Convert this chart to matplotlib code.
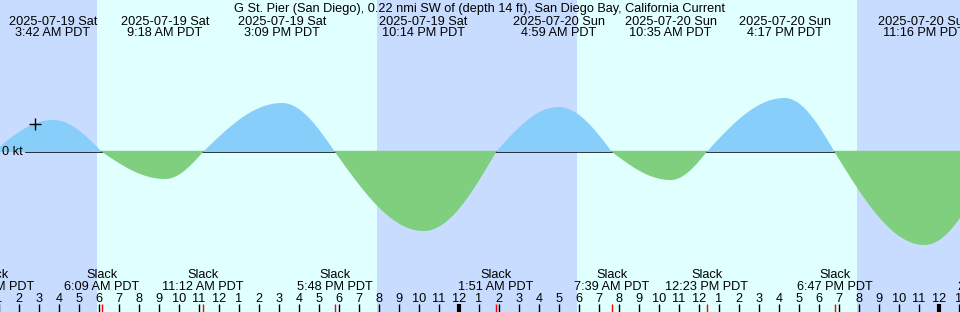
import numpy as np
import matplotlib
matplotlib.use("Agg")
import matplotlib.pyplot as plt
from matplotlib.transforms import blended_transform_factory

# ---- data (hours since 2025-07-19 00:00 PDT, current in knots) ----
title = "G St. Pier (San Diego), 0.22 nmi SW of (depth 14 ft), San Diego Bay, California Current"

event_times = [0.72, 3.70, 6.15, 9.30, 11.20, 15.15, 17.80, 22.23, 25.85,
               28.98, 31.65, 34.58, 36.38, 40.28, 42.78, 47.27, 50.83]
event_values = [0.0, 0.32, 0.0, -0.27, 0.0, 0.49, 0.0, -0.79, 0.0,
                0.45, 0.0, -0.28, 0.0, 0.54, 0.0, -0.93, 0.0]
event_labels = [
    "Slack\n12:43 AM PDT",
    "2025-07-19 Sat\n3:42 AM PDT",
    "Slack\n6:09 AM PDT",
    "2025-07-19 Sat\n9:18 AM PDT",
    "Slack\n11:12 AM PDT",
    "2025-07-19 Sat\n3:09 PM PDT",
    "Slack\n5:48 PM PDT",
    "2025-07-19 Sat\n10:14 PM PDT",
    "Slack\n1:51 AM PDT",
    "2025-07-20 Sun\n4:59 AM PDT",
    "Slack\n7:39 AM PDT",
    "2025-07-20 Sun\n10:35 AM PDT",
    "Slack\n12:23 PM PDT",
    "2025-07-20 Sun\n4:17 PM PDT",
    "Slack\n6:47 PM PDT",
    "2025-07-20 Sun\n11:16 PM PDT",
    "Slack\n2:50 AM PDT",
]
night_starts = [-2.0, 19.9, 43.9]
night_ends = [5.9, 29.9, 52.0]
now_time = 2.8
now_value = 0.28

# ---- figure ----
W, H = 960, 312
fig = plt.figure(figsize=(W / 100, H / 100), dpi=100)
ax = fig.add_axes([0, 0, 1, 1])
x0 = 1.05
ax.set_xlim(x0, x0 + 48)
ax.set_ylim(-1.60, 1.52)
ax.axis("off")
day_color = "#e0ffff"
night_color = "#c8dcff"
flood_color = "#87cefa"
ebb_color = "#7fcf7f"
fig.patch.set_facecolor(day_color)
ax.add_patch(plt.Rectangle((0, 0), 1, 1, transform=ax.transAxes, color=day_color, zorder=0))
for s, e in zip(night_starts, night_ends):
    ax.axvspan(s, e, color=night_color, lw=0, zorder=0.5)

FONT = ["Liberation Sans", "DejaVu Sans"]
FS = 9.2
tr = blended_transform_factory(ax.transData, ax.transAxes)

def yf(py):
    return 1 - py / H

# curve: sine-shaped rise from slack to maximum, cosine fall back to slack
ts, vs = [], []
for i in range(len(event_times) - 1):
    ta, tb = event_times[i], event_times[i + 1]
    va, vb = event_values[i], event_values[i + 1]
    s = np.linspace(0, 1, 200)
    if va == 0:
        v = vb * np.sin(np.pi / 2 * s)
    else:
        v = va * np.cos(np.pi / 2 * s)
    ts.append(ta + (tb - ta) * s)
    vs.append(v)
t = np.concatenate(ts)
v = np.concatenate(vs)

# zero line
ax.plot([x0 + 26 / 20, x0 + 50], [0, 0], color="black", lw=1.1, zorder=1)
ax.fill_between(t, 0, v, where=v >= 0, color=flood_color, lw=0, zorder=2, interpolate=True)
ax.fill_between(t, 0.012, np.minimum(v, 0.012), where=v <= 0, color=ebb_color, lw=0,
                zorder=2, interpolate=True)
ax.text(x0 + 2 / 20, 0, "0 kt", ha="left", va="center", fontsize=FS, family=FONT, zorder=5)

# now marker
ax.plot([now_time], [now_value], marker="+", color="black", ms=8.5, mew=1.0, zorder=5)

# title
ax.text(0.5, yf(12), title, transform=ax.transAxes, ha="center", va="baseline",
        fontsize=FS, family=FONT, zorder=5)

# event labels
for et, ev, lab in zip(event_times, event_values, event_labels):
    l1, l2 = lab.split("\n")
    if ev == 0:
        ax.text(et, yf(278), l1, transform=tr, ha="center", va="baseline", fontsize=FS, family=FONT, zorder=5)
        ax.text(et, yf(289.5), l2, transform=tr, ha="center", va="baseline", fontsize=FS, family=FONT, zorder=5)
    else:
        ax.text(et, yf(25), l1, transform=tr, ha="center", va="baseline", fontsize=FS, family=FONT, zorder=5)
        ax.text(et, yf(36), l2, transform=tr, ha="center", va="baseline", fontsize=FS, family=FONT, zorder=5)

# hour ticks
for h in range(0, 51):
    lab = str((h - 1) % 12 + 1)
    ax.text(h, yf(302), lab, transform=tr, ha="center", va="baseline", fontsize=FS, family=FONT, zorder=5)
    lw = 3 if h % 24 == 0 else 1
    ax.plot([h, h], [yf(304), 0], transform=tr, color="black", lw=lw, zorder=5,
            solid_capstyle="butt")
# slack ticks
for et, ev in zip(event_times, event_values):
    if ev == 0:
        ax.plot([et, et], [yf(304), 0], transform=tr, color="red", lw=1, zorder=5,
                solid_capstyle="butt")

fig.savefig("out.png", dpi=100, facecolor=day_color)
